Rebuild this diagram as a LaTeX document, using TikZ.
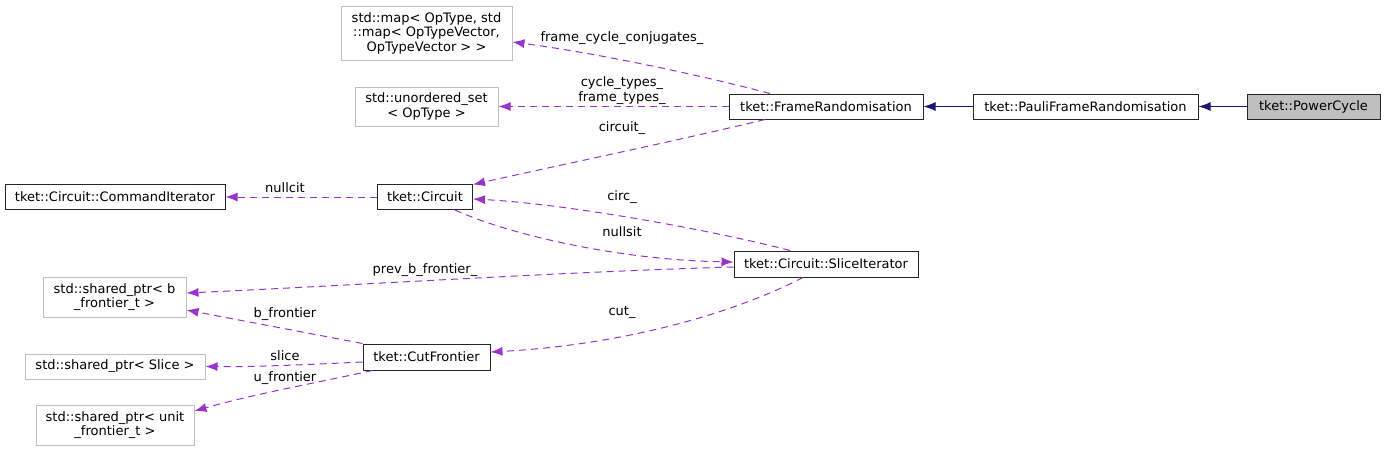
\documentclass[tikz,border=0pt]{standalone}
\usepackage{fontspec}
\setmainfont{DejaVu Sans}
\usepackage{tikz}
\usetikzlibrary{
  arrows.meta,
  positioning
}
\definecolor{MemberPurple}{HTML}{9A32CD}
\definecolor{BaseNavy}{HTML}{191970}
\definecolor{ExtGray}{HTML}{BFBFBF}
\definecolor{FocusGray}{HTML}{BFBFBF}
\tikzset{
  classnode/.style={draw=black!85,fill=white,line width=1pt,inner sep=0pt,minimum height=25pt,align=center,font=\fontsize{13}{14.5}\selectfont},
  extnode/.style={draw=ExtGray,fill=white,line width=1pt,inner sep=0pt,align=center,font=\fontsize{13}{14.5}\selectfont},
  focusnode/.style={classnode,fill=FocusGray},
  edgelabel/.style={inner sep=0pt,align=center,font=\fontsize{13}{14.5}\selectfont},
  memberarrow/.style={-{Latex[length=12pt,width=9pt]},draw=MemberPurple,line width=1pt,dash pattern=on 7pt off 5pt},
  basearrow/.style={-{Latex[length=12pt,width=9pt]},draw=BaseNavy,line width=1pt}
}

\begin{document}
\begin{tikzpicture}[x=1pt,y=-1pt]
\useasboundingbox (0,0) rectangle (1384,451);

% classes
\node[focusnode, minimum width=133pt] (powercycle) at (1313.5,106.5) {tket::PowerCycle};
\node[classnode, minimum width=225pt] (pfr) at (1085.5,106.5) {tket::PauliFrameRandomisation};
\node[classnode, minimum width=194pt] (fr) at (826,106.5) {tket::FrameRandomisation};
\node[classnode, minimum width=95pt] (circuit) at (425,197) {tket::Circuit};
\node[classnode, minimum width=220pt] (cmditer) at (115,197) {tket::Circuit::CommandIterator};
\node[classnode, minimum width=184pt, minimum height=26pt] (sliceit) at (826,264) {tket::Circuit::SliceIterator};
\node[classnode, minimum width=127pt, minimum height=26pt] (cutfr) at (426.5,357) {tket::CutFrontier};

% external types
\node[extnode, minimum width=171pt, minimum height=54pt] (optmap) at (426.5,33) {std::map< OpType, std\\::map< OpTypeVector,\\ OpTypeVector > >};
\node[extnode, minimum width=143pt, minimum height=39pt] (opset) at (426.5,106.5) {std::unordered\_set\\< OpType >};
\node[extnode, minimum width=143pt, minimum height=40pt] (bptr) at (114.5,297) {std::shared\_ptr< b\\\_frontier\_t >};
\node[extnode, minimum width=180pt, minimum height=25pt] (sliceptr) at (115,366.5) {std::shared\_ptr< Slice >};
\node[extnode, minimum width=158pt, minimum height=40pt] (unitptr) at (115,425) {std::shared\_ptr< unit\\\_frontier\_t >};

% labels
\node[edgelabel] (lconj) at (622,38) {frame\_cycle\_conjugates\_};
\node[edgelabel] (ltypes) at (622,90.5) {cycle\_types\_\\frame\_types\_};
\node[edgelabel] (lcircuit) at (622,128) {circuit\_};
\node[edgelabel] (lnullcit) at (285,188) {nullcit};
\node[edgelabel] (lcirc) at (622,197) {circ\_};
\node[edgelabel] (lnullsit) at (622,232) {nullsit};
\node[edgelabel] (lprev) at (425,270) {prev\_b\_frontier\_};
\node[edgelabel] (lcut) at (622,312) {cut\_};
\node[edgelabel] (lbfront) at (285,314) {b\_frontier};
\node[edgelabel] (lslice) at (285,356) {slice};
\node[edgelabel] (lufront) at (285,378) {u\_frontier};

% inheritance
\draw[basearrow] (powercycle) -- (pfr);
\draw[basearrow] (pfr) -- (fr);

% members
\draw[memberarrow] ([xshift=-56pt]fr.north) .. controls (720,80) and (610,55) .. ([yshift=-9pt]optmap.east);
\draw[memberarrow] (fr.west) -- (opset.east);
\draw[memberarrow] ([xshift=-61pt]fr.south) .. controls (680,140) and (560,165) .. ([yshift=-0.5pt]circuit.north east);
\draw[memberarrow] (circuit.west) -- (cmditer.east);
\draw[memberarrow] ([xshift=-36pt]sliceit.north) .. controls (720,232) and (570,204) .. ([yshift=-2pt]circuit.east);
\draw[memberarrow] ([xshift=30pt]circuit.south) .. controls (510,235) and (620,260) .. ([yshift=2pt]sliceit.west);
\draw[memberarrow] ([yshift=-3pt]sliceit.west) .. controls (560,272) and (360,285) .. ([yshift=4pt]bptr.east);
\draw[memberarrow] ([xshift=-23pt]sliceit.south) .. controls (730,315) and (620,345) .. ([yshift=5pt]cutfr.east);
\draw[memberarrow] (cutfr.north west) -- ([yshift=-13pt]bptr.east);
\draw[memberarrow] ([yshift=-5pt]cutfr.west) .. controls (300,365) and (250,367) .. (sliceptr.east);
\draw[memberarrow] ([xshift=10pt]cutfr.south west) .. controls (320,382) and (250,395) .. ([yshift=14pt]unitptr.east);
\end{tikzpicture}
\end{document}
